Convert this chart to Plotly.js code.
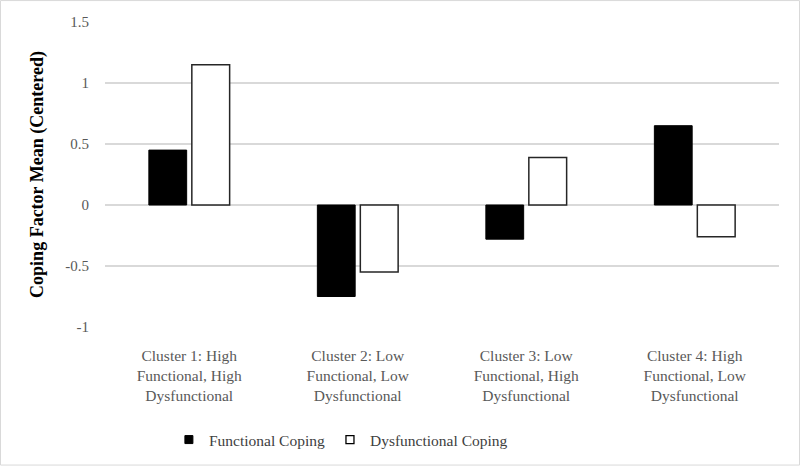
<!DOCTYPE html>
<html>
<head>
<meta charset="utf-8">
<script src="https://cdn.plot.ly/plotly-3.0.1.min.js"></script>
<style>
html,body{margin:0;padding:0;background:#fff;}
#chart{width:800px;height:467px;}
</style>
</head>
<body>
<div id="chart"></div>
<script>
const categories = [
  "Cluster 1: High<br>Functional, High<br>Dysfunctional",
  "Cluster 2: Low<br>Functional, Low<br>Dysfunctional",
  "Cluster 3: Low<br>Functional, High<br>Dysfunctional",
  "Cluster 4: High<br>Functional, Low<br>Dysfunctional"
];
const seriesNames = ["Functional Coping", "Dysfunctional Coping"];
const functionalCoping = [0.45, -0.75, -0.28, 0.65];
const dysfunctionalCoping = [1.15, -0.55, 0.39, -0.26];
const yTickVals = [-1, -0.5, 0, 0.5, 1, 1.5];
const yTickText = ["-1", "-0.5", "0", "0.5", "1", "1.5"];

const fontFam = "Liberation Serif, DejaVu Serif, serif";
const W = 800, H = 467;
const M = {l: 105, r: 21, t: 22, b: 139};
const pw = W - M.l - M.r, ph = H - M.t - M.b;

const traces = [
  {
    type: "bar", name: seriesNames[0], x: categories, y: functionalCoping, showlegend: false,
    marker: {color: "#000000", line: {color: "#000000", width: 1}}
  },
  {
    type: "bar", name: seriesNames[1], x: categories, y: dysfunctionalCoping, showlegend: false,
    marker: {color: "#ffffff", line: {color: "#262626", width: 1.5}}
  },
  // legend-only entries with small square keys
  {
    type: "scatter", mode: "markers", name: seriesNames[0], x: [null], y: [null],
    marker: {symbol: "square", size: 8, color: "#000000", line: {color: "#000000", width: 1}}
  },
  {
    type: "scatter", mode: "markers", name: seriesNames[1], x: [null], y: [null],
    marker: {symbol: "square", size: 8, color: "#ffffff", line: {color: "#000000", width: 1.3}}
  }
];

const layout = {
  width: W, height: H,
  paper_bgcolor: "#ffffff", plot_bgcolor: "#ffffff",
  margin: M,
  barmode: "group", bargap: 0.49, bargroupgap: 0.12,
  font: {family: fontFam, color: "#595959", size: 15},
  showlegend: true,
  legend: {orientation: "h", x: 0.35, xanchor: "center", y: 0, yanchor: "middle",
           font: {family: fontFam, size: 15.5, color: "#404040"}, itemwidth: 30, traceorder: "normal"},
  xaxis: {
    type: "category",
    showgrid: false, zeroline: false, showline: false, ticks: "",
    tickfont: {family: fontFam, size: 15.5, color: "#595959"}, tickangle: 0, automargin: false,
    ticklabelstandoff: 17
  },
  yaxis: {
    range: [-1, 1.5], tickvals: yTickVals, ticktext: yTickText,
    showgrid: true, gridcolor: "#d9d9d9", gridwidth: 1.5,
    zeroline: true, zerolinecolor: "#d9d9d9", zerolinewidth: 1.5,
    showline: false, ticks: "", ticklen: 0, ticklabelstandoff: 15,
    tickfont: {family: fontFam, size: 15, color: "#595959"},
    title: {text: "<b>Coping Factor Mean (Centered)</b>", font: {family: fontFam, size: 18, color: "#000000"}, standoff: 16},
    automargin: false
  },
  shapes: [
    {type: "rect", xref: "paper", yref: "paper",
     x0: (0.5 - M.l) / pw, x1: (W - 0.5 - M.l) / pw,
     y0: -(M.b - 0.5) / ph, y1: 1 + (M.t - 0.5) / ph,
     line: {color: "#d9d9d9", width: 1}, fillcolor: "rgba(0,0,0,0)", layer: "below"}
  ]
};
// legend center at pixel y=440
layout.legend.y = (H - M.b - 440) / ph;

Plotly.newPlot("chart", traces, layout, {displayModeBar: false, staticPlot: true});
</script>
</body>
</html>
